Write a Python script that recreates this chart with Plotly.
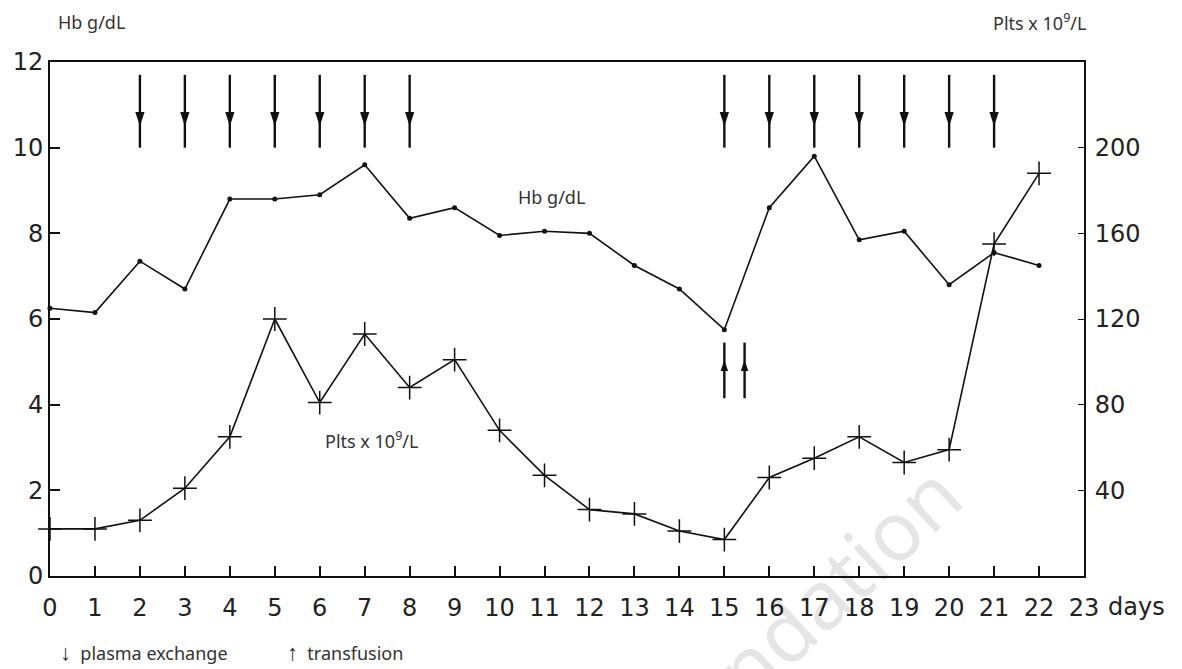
import plotly.graph_objects as go

# ---- data ----
days = list(range(23))
hb = [6.25, 6.15, 7.35, 6.7, 8.8, 8.8, 8.9, 9.6, 8.35, 8.6, 7.95, 8.05,
      8.0, 7.25, 6.7, 5.75, 8.6, 9.8, 7.85, 8.05, 6.8, 7.55, 7.25]
plts = [22, 22, 26, 41, 65, 120, 81, 113, 88, 101, 68, 47,
        31, 29, 21, 17, 46, 55, 65, 53, 59, 155, 188]
plasma_exchange_days = [2, 3, 4, 5, 6, 7, 8, 15, 16, 17, 18, 19, 20, 21]
transfusion_days = [15, 15.45]
x_ticks = list(range(24))
left_ticks = [0, 2, 4, 6, 8, 10, 12]
right_ticks = [40, 80, 120, 160, 200]

# arrow geometry (left-axis units)
PE_TOP, PE_BOTTOM, PE_HEAD = 11.7, 10.0, 10.5
TR_TOP, TR_BOTTOM, TR_HEAD = 5.45, 4.15, 5.05

fig = go.Figure()

# Hb line
fig.add_trace(go.Scatter(
    x=days, y=hb, mode="lines+markers",
    line=dict(color="#111", width=1.6),
    marker=dict(symbol="circle", size=5, color="#111"),
    cliponaxis=False, showlegend=False, hoverinfo="skip"))

# Platelets line (right axis)
fig.add_trace(go.Scatter(
    x=days, y=plts, mode="lines+markers", yaxis="y2",
    line=dict(color="#111", width=1.6),
    marker=dict(symbol="cross-thin-open", size=17,
                line=dict(color="#111", width=1.5)),
    cliponaxis=False, showlegend=False, hoverinfo="skip"))

# plasma exchange arrows (down)
sx, sy = [], []
for d in plasma_exchange_days:
    sx += [d, d, None]
    sy += [PE_TOP, PE_BOTTOM, None]
fig.add_trace(go.Scatter(x=sx, y=sy, mode="lines",
                         line=dict(color="#111", width=2.4),
                         showlegend=False, hoverinfo="skip"))
fig.add_trace(go.Scatter(x=plasma_exchange_days,
                         y=[PE_HEAD] * len(plasma_exchange_days),
                         mode="markers",
                         marker=dict(symbol="arrow", angle=180, size=15,
                                     color="#111"),
                         showlegend=False, hoverinfo="skip"))

# transfusion arrows (up)
tx, ty = [], []
for d in transfusion_days:
    tx += [d, d, None]
    ty += [TR_BOTTOM, TR_TOP, None]
fig.add_trace(go.Scatter(x=tx, y=ty, mode="lines",
                         line=dict(color="#111", width=2.4),
                         showlegend=False, hoverinfo="skip"))
fig.add_trace(go.Scatter(x=transfusion_days,
                         y=[TR_HEAD] * len(transfusion_days),
                         mode="markers",
                         marker=dict(symbol="arrow", angle=0, size=12,
                                     color="#111"),
                         showlegend=False, hoverinfo="skip"))

tickfont = dict(family="DejaVu Sans", size=24, color="#222")
txtfont = dict(family="Noto Sans", size=18, color="#333")

W, L, T, H, B = 1182, 50, 62, 669, 576
PW, PH = 1084 - L, B - T


def px(x):
    return (x - L) / PW


def py(y):
    return (B - y) / PH


fig.update_layout(
    width=W, height=H,
    margin=dict(l=L, r=W - 1084, t=T, b=H - B),
    paper_bgcolor="white", plot_bgcolor="white",
    xaxis=dict(range=[0, 23], tickvals=x_ticks, ticktext=[str(t) for t in x_ticks],
               ticks="inside", ticklen=10, tickwidth=1.5, tickcolor="#111",
               showline=True, linecolor="#111", linewidth=1.8, mirror=True,
               showgrid=False, zeroline=False, tickfont=tickfont,
               ticklabelstandoff=9, automargin=False),
    yaxis=dict(range=[0, 12], tickvals=left_ticks,
               ticks="inside", ticklen=10, tickwidth=1.5, tickcolor="#111",
               showline=True, linecolor="#111", linewidth=1.8,
               showgrid=False, zeroline=False, tickfont=tickfont,
               ticklabelstandoff=0, automargin=False),
    yaxis2=dict(range=[0, 240], tickvals=right_ticks, overlaying="y", side="right",
                ticks="inside", ticklen=6, tickwidth=1.2, tickcolor="#111",
                showline=True, linecolor="#111", linewidth=1.8,
                showgrid=False, zeroline=False, tickfont=tickfont,
                ticklabelstandoff=4, automargin=False),
    annotations=[
        dict(text="Foundation", xref="paper", yref="paper",
             x=px(784), y=py(630), xanchor="center", yanchor="middle",
             showarrow=False, textangle=-43,
             font=dict(family="Noto Sans", size=82, color="rgba(0,0,0,0.1)")),
        dict(text="Hb g/dL", xref="paper", yref="paper", x=px(56),
             y=py(22), xanchor="left", yanchor="middle",
             showarrow=False, font=txtfont),
        dict(text="Plts x 10<sup>9</sup>/L", xref="paper", yref="paper",
             x=px(1089), y=py(22), xanchor="right",
             yanchor="middle", showarrow=False, font=txtfont),
        dict(text="Hb g/dL", xref="paper", yref="paper", x=px(551),
             y=py(197), xanchor="center", yanchor="middle",
             showarrow=False, font=txtfont),
        dict(text="Plts x 10<sup>9</sup>/L", xref="paper", yref="paper",
             x=px(372), y=py(440), xanchor="center", yanchor="middle",
             showarrow=False, font=txtfont),
        dict(text="days", xref="paper", yref="paper", x=px(1106),
             y=py(607), xanchor="left", yanchor="middle",
             showarrow=False, font=tickfont),
        dict(text="<span style='font-size:22px'>↓</span>  plasma exchange",
             xref="paper", yref="paper",
             x=px(58), y=py(651), xanchor="left",
             yanchor="middle", showarrow=False, font=txtfont),
        dict(text="<span style='font-size:22px'>↑</span>  transfusion",
             xref="paper", yref="paper",
             x=px(285), y=py(651), xanchor="left",
             yanchor="middle", showarrow=False, font=txtfont),
    ],
)

fig.write_html("out.html",
               config={"displayModeBar": False},
               post_script="document.body.style.margin='0px';")
